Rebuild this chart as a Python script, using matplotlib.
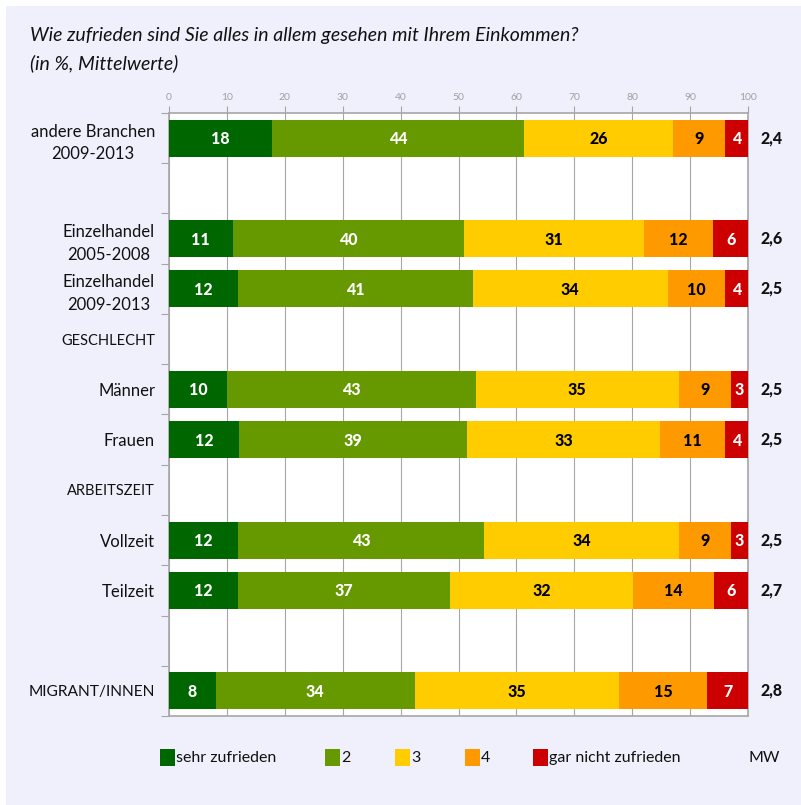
import numpy as np
import matplotlib
matplotlib.use("Agg")
import matplotlib.pyplot as plt
from matplotlib.patches import Rectangle

plt.rcParams["font.family"] = ["Lato", "DejaVu Sans"]

nan = np.nan
rows = ["andere Branchen\n2009-2013", "", "Einzelhandel\n2005-2008", "Einzelhandel\n2009-2013",
        "GESCHLECHT", "Männer", "Frauen", "ARBEITSZEIT", "Vollzeit", "Teilzeit", "", "MIGRANT/INNEN"]
section_rows = ["GESCHLECHT", "ARBEITSZEIT"]
series = ["sehr zufrieden", "2", "3", "4", "gar nicht zufrieden"]
sehr = [18, nan, 11, 12, nan, 10, 12, nan, 12, 12, nan, 8]
zwei = [44, nan, 40, 41, nan, 43, 39, nan, 43, 37, nan, 34]
drei = [26, nan, 31, 34, nan, 35, 33, nan, 34, 32, nan, 35]
vier = [9, nan, 12, 10, nan, 9, 11, nan, 9, 14, nan, 15]
gar_nicht = [4, nan, 6, 4, nan, 3, 4, nan, 3, 6, nan, 7]
mw = [2.4, nan, 2.6, 2.5, nan, 2.5, 2.5, nan, 2.5, 2.7, nan, 2.8]

colors = ["#006600", "#669900", "#FFCC00", "#FF9900", "#CC0000"]
text_colors = ["white", "white", "black", "black", "white"]
xticks = list(range(0, 101, 10))

W, H = 801, 805
fig = plt.figure(figsize=(W / 100, H / 100), dpi=100, facecolor="white")
fig.patches.append(Rectangle((6 / W, 0), 1, 1 - 6 / H, transform=fig.transFigure,
                             facecolor="#F0F0FD", edgecolor="none", zorder=-10))

ax = fig.add_axes([169 / W, 1 - 716 / H, (748 - 169) / W, (716 - 113) / H])
ax.set_facecolor("white")

# 100% stacked: each row scaled to its own total, labels keep the shares
y = np.arange(len(rows))
data = np.array([sehr, zwei, drei, vier, gar_nicht], dtype=float)
totals = np.nansum(data, axis=0)
totals[totals == 0] = 1
left = np.zeros(len(rows))
for vals, name, col, tcol in zip(data, series, colors, text_colors):
    widths = np.nan_to_num(vals) / totals * 100
    ax.barh(y, widths, left=left, height=0.74, color=col, zorder=3, label=name)
    for yi, (l, w, v) in enumerate(zip(left, widths, vals)):
        if np.isnan(v):
            continue
        ax.text(l + w / 2, yi + 0.02, f"{v:.0f}", ha="center", va="center", color=tcol,
                fontsize=11.5, fontweight=900, zorder=4)
    left = left + widths

for yi, m in enumerate(mw):
    if not np.isnan(m):
        ax.text(1.04, yi, f"{m:.1f}".replace(".", ","), transform=ax.get_yaxis_transform(),
                ha="center", va="center", fontsize=11.5, fontweight=900, color="#111111")

ax.set_xlim(0, 100)
ax.set_ylim(len(rows) - 0.5, -0.5)
ax.xaxis.tick_top()
ax.set_xticks(xticks)
ax.tick_params(axis="x", colors="#A6A6A6", labelcolor="#A0A0A0", labelsize=7.5,
               length=5, width=0.8, pad=3)
ax.grid(axis="x", color="#A6A6A6", lw=0.8, zorder=0)

ax.set_yticks(y)
ax.set_yticklabels(rows)
ax.set_yticks(np.arange(-0.5, len(rows), 1), minor=True)
ax.tick_params(axis="y", which="major", length=0, pad=10, labelsize=12, labelcolor="#111111")
ax.tick_params(axis="y", which="minor", length=6, width=0.8, color="#A6A6A6")
for lab in ax.get_yticklabels():
    lab.set_multialignment("center")
    lab.set_linespacing(1.5)
    if lab.get_text() in section_rows:
        lab.set_fontsize(10.5)
    elif lab.get_text().isupper():
        lab.set_fontsize(11.2)

for s in ax.spines.values():
    s.set_color("#A6A6A6")
    s.set_linewidth(1.2)

fig.text(30 / W, 1 - 36 / H, "Wie zufrieden sind Sie alles in allem gesehen mit Ihrem Einkommen?",
         fontsize=14, style="italic", va="center", ha="left", color="#111111")
fig.text(30 / W, 1 - 63 / H, "(in %, Mittelwerte)",
         fontsize=14, style="italic", va="center", ha="left", color="#111111")

# legend row along the bottom
leg_x = [160, 325, 395, 465, 533]
for xl, name, col in zip(leg_x, series, colors):
    fig.patches.append(Rectangle((xl / W, 1 - 766 / H), 15 / W, 17 / H,
                                 transform=fig.transFigure, facecolor=col, edgecolor="none"))
    fig.text((xl + 16) / W, 1 - 758 / H, name, fontsize=11.5, va="center", ha="left",
             color="#111111")
fig.text(749 / W, 1 - 758 / H, "MW", fontsize=11.5, va="center", ha="left", color="#111111")

fig.savefig("out.png", dpi=100, facecolor=fig.get_facecolor())
